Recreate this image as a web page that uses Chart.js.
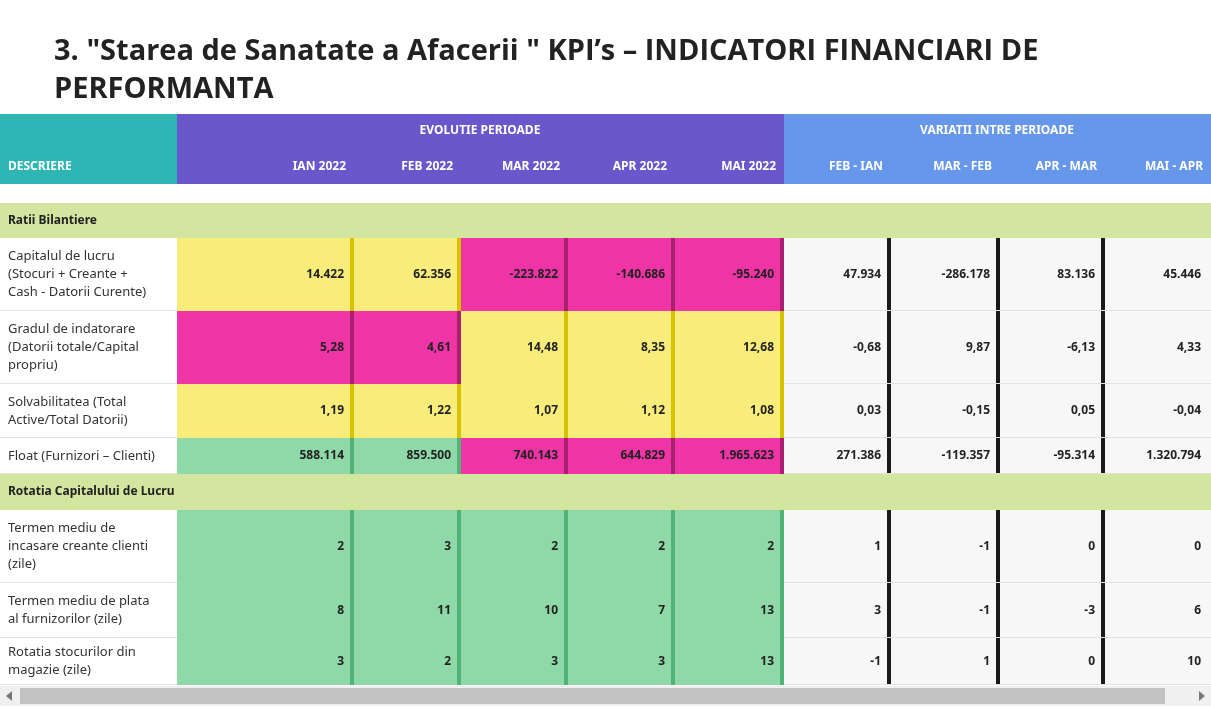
<!DOCTYPE html>
<html>
<head>
<meta charset="utf-8">
<script src="https://cdn.jsdelivr.net/npm/chart.js@4.4.0/dist/chart.umd.min.js"></script>
<style>
  body { margin: 0; background: #fff; font-family: 'Noto Sans', sans-serif; }
  #wrap { position: relative; width: 1211px; height: 720px; }
  h1 { position: absolute; left: 54px; top: 30px; margin: 0; font-size: 29px; line-height: 38px;
       font-weight: 700; color: #222; width: 1120px; font-family: 'Open Sans', sans-serif; }
  canvas { position: absolute; left: 0; top: 0; }
</style>
</head>
<body>
<div id="wrap">
  <canvas id="kpiTable" width="1211" height="720"></canvas>
  <h1>3. "Starea de Sanatate a Afacerii " KPI’s – INDICATORI FINANCIARI DE PERFORMANTA</h1>
</div>
<script>
// column edges (x) and labels
const columns = [
  { label: 'DESCRIERE', x0: 0, x1: 177 },
  { label: 'IAN 2022', x0: 177, x1: 354 },
  { label: 'FEB 2022', x0: 354, x1: 461 },
  { label: 'MAR 2022', x0: 461, x1: 568 },
  { label: 'APR 2022', x0: 568, x1: 675 },
  { label: 'MAI 2022', x0: 675, x1: 784 },
  { label: 'FEB - IAN', x0: 784, x1: 891 },
  { label: 'MAR - FEB', x0: 891, x1: 1000 },
  { label: 'APR - MAR', x0: 1000, x1: 1105 },
  { label: 'MAI - APR', x0: 1105, x1: 1211 }
];

const palette = {
  Y: { fill: '#f8ec7a', edge: '#d8c200' },
  M: { fill: '#ef34a5', edge: '#a8206f' },
  G: { fill: '#8fd9a8', edge: '#52b377' }
};

// rows: section headers and data rows
const rows = [
  { section: 'Ratii Bilantiere', y0: 203, y1: 238 },
  { desc: ['Capitalul de lucru', '(Stocuri + Creante +', 'Cash - Datorii Curente)'], y0: 238, y1: 311,
    values: ['14.422', '62.356', '-223.822', '-140.686', '-95.240'], colors: 'YYMMM',
    diffs: ['47.934', '-286.178', '83.136', '45.446'] },
  { desc: ['Gradul de indatorare', '(Datorii totale/Capital', 'propriu)'], y0: 311, y1: 384,
    values: ['5,28', '4,61', '14,48', '8,35', '12,68'], colors: 'MMYYY',
    diffs: ['-0,68', '9,87', '-6,13', '4,33'] },
  { desc: ['Solvabilitatea (Total', 'Active/Total Datorii)'], y0: 384, y1: 438,
    values: ['1,19', '1,22', '1,07', '1,12', '1,08'], colors: 'YYYYY',
    diffs: ['0,03', '-0,15', '0,05', '-0,04'] },
  { desc: ['Float (Furnizori – Clienti)'], y0: 438, y1: 474,
    values: ['588.114', '859.500', '740.143', '644.829', '1.965.623'], colors: 'GGMMM',
    diffs: ['271.386', '-119.357', '-95.314', '1.320.794'] },
  { section: 'Rotatia Capitalului de Lucru', y0: 474, y1: 510 },
  { desc: ['Termen mediu de', 'incasare creante clienti', '(zile)'], y0: 510, y1: 583,
    values: ['2', '3', '2', '2', '2'], colors: 'GGGGG',
    diffs: ['1', '-1', '0', '0'] },
  { desc: ['Termen mediu de plata', 'al furnizorilor (zile)'], y0: 583, y1: 638,
    values: ['8', '11', '10', '7', '13'], colors: 'GGGGG',
    diffs: ['3', '-1', '-3', '6'] },
  { desc: ['Rotatia stocurilor din', 'magazie (zile)'], y0: 638, y1: 685,
    values: ['3', '2', '3', '3', '13'], colors: 'GGGGG',
    diffs: ['-1', '1', '0', '10'] }
];

const tablePlugin = {
  id: 'tablePlugin',
  afterDraw(chart) {
    const ctx = chart.ctx;
    const sx = chart.scales.x, sy = chart.scales.y;
    const px = v => sx.getPixelForValue(v);
    const py = v => sy.getPixelForValue(v);
    const rect = (x0, y0, x1, y1, color) => {
      ctx.fillStyle = color;
      ctx.fillRect(px(x0), py(y0), px(x1) - px(x0), py(y1) - py(y0));
    };
    ctx.save();

    // header bands
    rect(0, 114, 177, 184, '#2db6b4');
    rect(177, 114, 784, 184, '#6a57cc');
    rect(784, 114, 1211, 184, '#6797ea');
    ctx.fillStyle = '#fff';
    ctx.font = 'bold 12px "Noto Sans"';
    ctx.textBaseline = 'middle';
    ctx.textAlign = 'center';
    ctx.fillText('EVOLUTIE PERIOADE', px(480), py(131));
    ctx.fillText('VARIATII INTRE PERIOADE', px(997), py(131));
    columns.forEach((c, i) => {
      if (i === 0) { ctx.textAlign = 'left'; ctx.fillText(c.label, px(8), py(167)); }
      else { ctx.textAlign = 'right'; ctx.fillText(c.label, px(c.x1 - 8), py(167)); }
    });

    rows.forEach(r => {
      const ym = (r.y0 + r.y1) / 2;
      if (r.section) {
        rect(0, r.y0, 1211, r.y1, '#d3e6a0');
        ctx.fillStyle = '#222';
        ctx.font = 'bold 12px "Noto Sans"';
        ctx.textAlign = 'left';
        ctx.fillText(r.section, px(8), py(ym));
        return;
      }
      // description
      ctx.fillStyle = '#333';
      ctx.font = '13px "Noto Sans"';
      ctx.textAlign = 'left';
      const lh = 18;
      r.desc.forEach((t, k) => {
        ctx.fillText(t, px(8), py(ym + (k - (r.desc.length - 1) / 2) * lh));
      });
      // period cells
      r.values.forEach((v, k) => {
        const c = columns[k + 1];
        const p = palette[r.colors[k]];
        rect(c.x0, r.y0, c.x1, r.y1, p.fill);
        rect(c.x1 - 4, r.y0, c.x1, r.y1, p.edge);
        ctx.fillStyle = '#222';
        ctx.font = 'bold 12px "Noto Sans"';
        ctx.textAlign = 'right';
        ctx.fillText(v, px(c.x1 - 10), py(ym));
      });
      // variance cells
      r.diffs.forEach((v, k) => {
        const c = columns[k + 6];
        rect(c.x0, r.y0, c.x1, r.y1, '#f7f7f7');
        if (k < 3) rect(c.x1 - 4, r.y0, c.x1, r.y1, '#1a1a1a');
        ctx.fillStyle = '#222';
        ctx.font = 'bold 12px "Noto Sans"';
        ctx.textAlign = 'right';
        ctx.fillText(v, px(c.x1 - 10), py(ym));
      });
      // row separator
      ctx.fillStyle = '#e2e2e2';
      ctx.fillRect(px(0), py(r.y1) - 1, px(177), 1);
      ctx.fillRect(px(784), py(r.y1) - 1, px(1211) - px(784), 1);
    });

    // scrollbar
    rect(0, 686, 1211, 706, '#f0f0f0');
    rect(20, 688, 1165, 704, '#c2c2c2');
    ctx.fillStyle = '#777';
    ctx.beginPath();
    ctx.moveTo(px(6), py(696)); ctx.lineTo(px(12), py(691)); ctx.lineTo(px(12), py(701)); ctx.fill();
    ctx.beginPath();
    ctx.moveTo(px(1205), py(696)); ctx.lineTo(px(1199), py(691)); ctx.lineTo(px(1199), py(701)); ctx.fill();
    ctx.restore();
  }
};

new Chart(document.getElementById('kpiTable'), {
  type: 'scatter',
  data: { datasets: [{ data: [] }] },
  options: {
    responsive: false,
    animation: false,
    layout: { padding: 0 },
    plugins: { legend: { display: false }, tooltip: { enabled: false } },
    scales: {
      x: { type: 'linear', min: 0, max: 1211, display: false },
      y: { type: 'linear', min: 0, max: 720, reverse: true, display: false }
    }
  },
  plugins: [tablePlugin]
});
</script>
</body>
</html>
